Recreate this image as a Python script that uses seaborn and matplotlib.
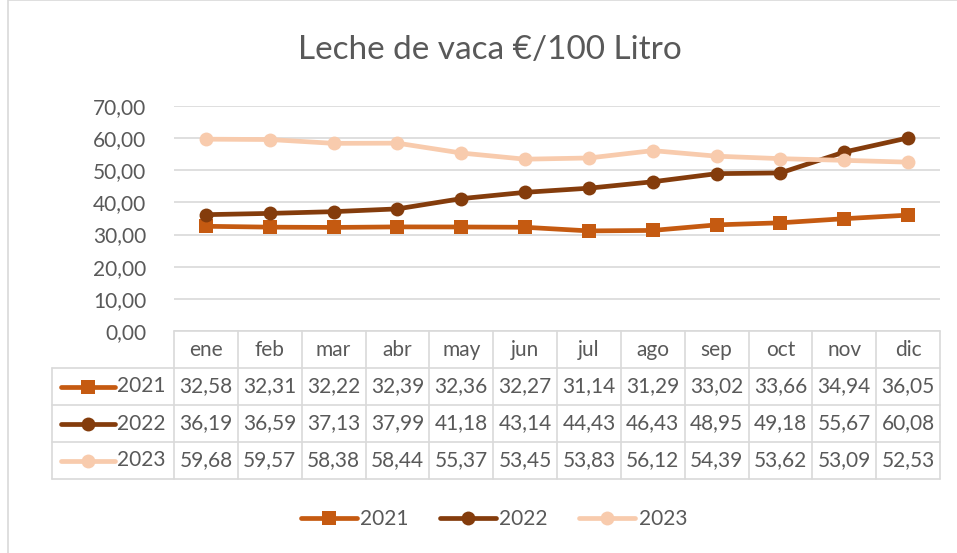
import numpy as np
import pandas as pd
import seaborn as sns
from matplotlib import pyplot as plt
from matplotlib.lines import Line2D

# datos
meses = ['ene', 'feb', 'mar', 'abr', 'may', 'jun', 'jul', 'ago', 'sep', 'oct', 'nov', 'dic']
anios = ['2021', '2022', '2023']
v2021 = [32.58, 32.31, 32.22, 32.39, 32.36, 32.27, 31.14, 31.29, 33.02, 33.66, 34.94, 36.05]
v2022 = [36.19, 36.59, 37.13, 37.99, 41.18, 43.14, 44.43, 46.43, 48.95, 49.18, 55.67, 60.08]
v2023 = [59.68, 59.57, 58.38, 58.44, 55.37, 53.45, 53.83, 56.12, 54.39, 53.62, 53.09, 52.53]
colores = {'2021': '#C55A11', '2022': '#843C0C', '2023': '#F8CBAD'}
marcas = {'2021': 's', '2022': 'o', '2023': 'o'}

df = pd.DataFrame({'mes': meses * 3,
                   'pos': list(range(12)) * 3,
                   'anio': [a for a in anios for _ in meses],
                   'valor': v2021 + v2022 + v2023})

sns.set_style('white')
plt.rcParams['font.family'] = ['Lato', 'DejaVu Sans']

W, H = 957, 553
fig = plt.figure(figsize=(W / 100, H / 100), dpi=100)
texto = '#595959'
gris = '#D9D9D9'
fs = 15


def fx(px):
    return px / W


def fy(py):
    return 1 - py / H


# marco del gráfico
fig.add_artist(plt.Rectangle((fx(8), fy(560)), fx(960), 560 / H, fill=False,
                             edgecolor=gris, lw=1.2, transform=fig.transFigure))

x0, x1 = 174, 940
y_top, y_0 = 106, 331
ax = fig.add_axes([fx(x0), fy(y_0), fx(x1 - x0), (y_0 - y_top) / H])
sns.lineplot(data=df, x='pos', y='valor', hue='anio', style='anio', palette=colores,
             markers=marcas, dashes=False, lw=3.4, markersize=10, markeredgewidth=0,
             legend=False, ax=ax)
ax.set_xlim(-0.5, 11.5)
ax.set_ylim(0, 70)
ax.set_yticks(np.arange(0, 71, 10))
ax.set_yticklabels([f'{v:.2f}'.replace('.', ',') for v in np.arange(0, 71, 10)],
                   fontsize=fs, color=texto)
ax.set_xticks([])
ax.set_xlabel('')
ax.set_ylabel('')
ax.tick_params(axis='y', length=0, pad=20)
ax.grid(axis='y', color=gris, lw=1.2)
for s in ax.spines.values():
    s.set_visible(False)
ax.set_axisbelow(True)

fig.text(fx(490), fy(50), 'Leche de vaca €/100 Litro', ha='center', va='center',
         fontsize=24, color=texto)

# tabla de datos
col_w = (x1 - x0) / 12
filas = [331, 368, 405, 442, 479]
xl = 52
lin = dict(color=gris, lw=1.2, transform=fig.transFigure)
for i, y in enumerate(filas):
    xs = x0 if i == 0 else xl
    fig.add_artist(Line2D([fx(xs), fx(x1)], [fy(y), fy(y)], **lin))
for j in range(13):
    xx = x0 + j * col_w
    fig.add_artist(Line2D([fx(xx), fx(xx)], [fy(filas[0]), fy(filas[-1])], **lin))
fig.add_artist(Line2D([fx(xl), fx(xl)], [fy(filas[1]), fy(filas[-1])], **lin))

for j, m in enumerate(meses):
    fig.text(fx(x0 + (j + 0.5) * col_w), fy((filas[0] + filas[1]) / 2), m,
             ha='center', va='center', fontsize=fs, color=texto)

valores = {'2021': v2021, '2022': v2022, '2023': v2023}
for i, a in enumerate(anios):
    yc = fy((filas[i + 1] + filas[i + 2]) / 2)
    fig.add_artist(Line2D([fx(61), fx(115)], [yc, yc], color=colores[a], lw=3.4,
                          transform=fig.transFigure, solid_capstyle='round'))
    fig.add_artist(Line2D([fx(88)], [yc], color=colores[a], marker=marcas[a],
                          markersize=10, markeredgewidth=0, transform=fig.transFigure))
    fig.text(fx(117), yc, a, ha='left', va='center', fontsize=fs, color=texto)
    for j, v in enumerate(valores[a]):
        fig.text(fx(x0 + (j + 0.5) * col_w), yc, f'{v:.2f}'.replace('.', ','),
                 ha='center', va='center', fontsize=fs, color=texto)

# leyenda inferior
handles = [Line2D([0], [0], color=colores[a], lw=3.4, marker=marcas[a], markersize=10,
                  markeredgewidth=0, solid_capstyle='round') for a in anios]
fig.legend(handles, anios, loc='center', bbox_to_anchor=(fx(494), fy(519)), ncol=3,
           frameon=False, fontsize=fs, labelcolor=texto, handlelength=2.7,
           columnspacing=1.5, handletextpad=0.15)

fig.savefig('out.png', dpi=100)
